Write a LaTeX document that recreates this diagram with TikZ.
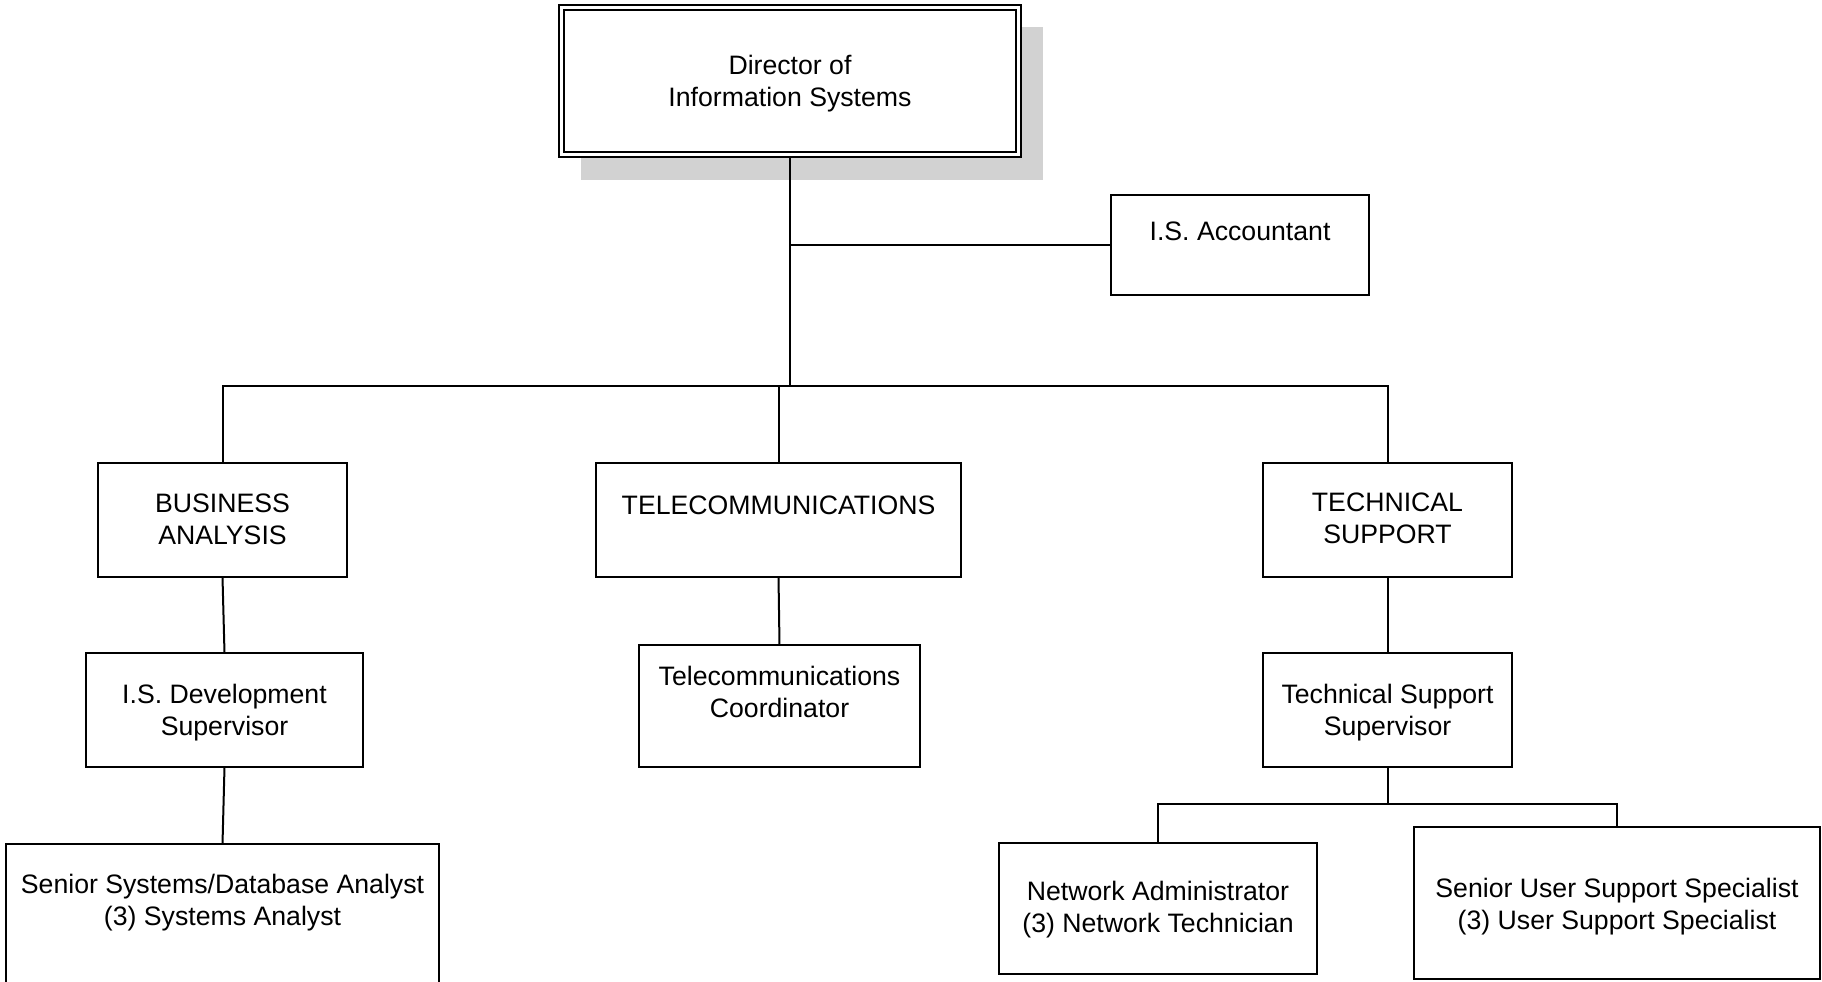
\documentclass[tikz,border=0pt]{standalone}
\usepackage{fontspec}
\setmainfont{Liberation Sans}
\newlength\pxu
\setlength\pxu{0.75pt}
\newcommand{\orgfnt}{\fontsize{20}{24.4}\selectfont}
% #1 width, #2 height, #3 space above first line (px), #4 text
\newcommand{\orgtext}[4]{\parbox[c][#2\pxu][t]{#1\pxu}{\centering\vspace*{#3\pxu}\strut#4\strut}}
\definecolor{shadowgray}{HTML}{D2D2D2}
\tikzset{
  orgbox/.style={draw, fill=white, line width=1.5pt, inner sep=0pt, outer sep=0pt,
    anchor=north west, font=\orgfnt},
  conn/.style={line width=1.5pt},
}
\begin{document}
\begin{tikzpicture}[x=0.75pt,y=-0.75pt]
\useasboundingbox (0,0) rectangle (1822,981);
\clip (0,0) rectangle (1822,981);
\fill[white] (0,0) rectangle (1822,981);

% shadow of director box
\fill[shadowgray] (581,27) rectangle (1043,180);

% boxes
\node[orgbox] (dir) at (559,5) {\orgtext{462}{152}{46.25}{Director of\\Information Systems}};
\draw[line width=1.5pt] ([shift={(5,5)}]dir.north west) rectangle ([shift={(-5,-5)}]dir.south east);

\node[orgbox] (acc) at (1111,195) {\orgtext{258}{100}{22.25}{I.S. Accountant}};

\node[orgbox] (ba)  at (98,463)   {\orgtext{249}{114}{26.25}{BUSINESS\\ANALYSIS}};
\node[orgbox] (tel) at (596,463)  {\orgtext{365}{114}{28.25}{TELECOMMUNICATIONS}};
\node[orgbox] (ts)  at (1263,463) {\orgtext{249}{114}{25.25}{TECHNICAL\\SUPPORT}};

\node[orgbox] (dev) at (86,653)   {\orgtext{277}{114}{27.25}{I.S. Development\\Supervisor}};
\node[orgbox] (tco) at (639,645)  {\orgtext{281}{122}{17.25}{Telecommunications\\Coordinator}};
\node[orgbox] (sup) at (1263,653) {\orgtext{249}{114}{27.25}{Technical Support\\Supervisor}};

\node[orgbox] (sys) at (6,844)    {\orgtext{433}{150}{26.25}{Senior Systems/Database Analyst\\(3) Systems Analyst}};
\node[orgbox] (net) at (999,843)  {\orgtext{318}{131}{34.25}{Network Administrator\\(3) Network Technician}};
\node[orgbox] (usr) at (1414,827) {\orgtext{406}{152}{47.25}{Senior User Support Specialist\\(3) User Support Specialist}};

% connectors
\coordinate (bus) at (790,386);
\coordinate (bar) at (1387,804);
\draw[conn] (dir.south) -- (dir.south |- bus);
\draw[conn] (dir.south |- acc.west) -- (acc.west);
\draw[conn] (ba.north) -- (ba.north |- bus) -- (ts.north |- bus) -- (ts.north);
\draw[conn] (tel.north) -- (tel.north |- bus);
\draw[conn] (ba.south) -- (dev.north);
\draw[conn] (dev.south) -- (sys.north);
\draw[conn] (tel.south) -- (tco.north);
\draw[conn] (ts.south) -- (sup.north);
\draw[conn] (sup.south) -- (sup.south |- bar);
\draw[conn] (net.north) -- (net.north |- bar) -- (usr.north |- bar) -- (usr.north);
\end{tikzpicture}
\end{document}
